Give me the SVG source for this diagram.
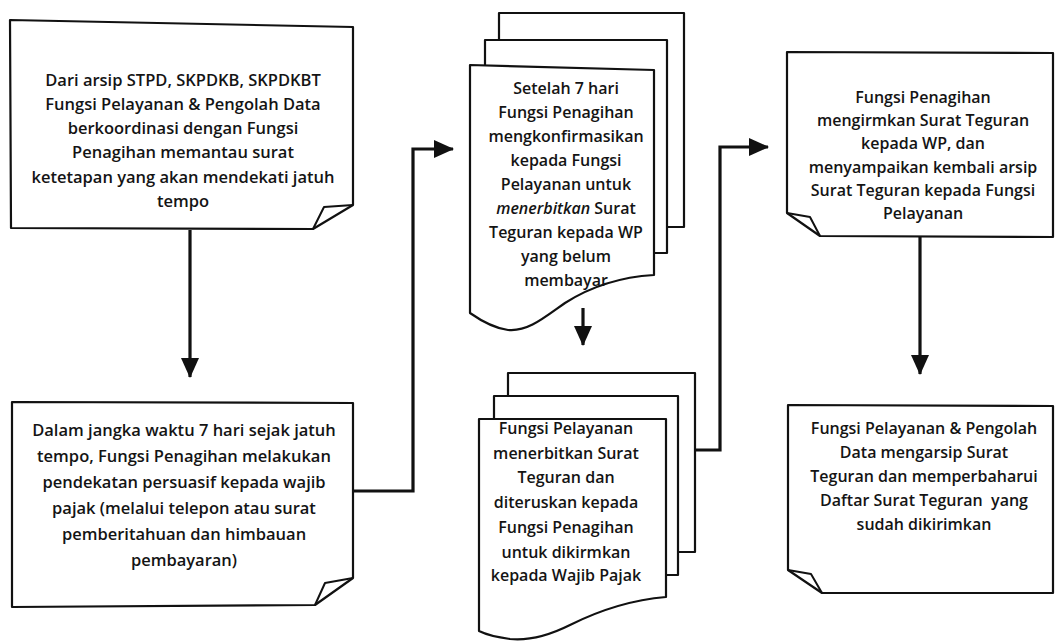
<svg xmlns="http://www.w3.org/2000/svg" width="1055" height="641" viewBox="0 0 1055 641">
<style>
.shape{fill:#fff;stroke:#111;stroke-width:2.2;stroke-linejoin:round}
.fold{fill:none;stroke:#111;stroke-width:2;stroke-linejoin:round}
.conn{fill:none;stroke:#111;stroke-width:3.2}
text{font-family:"Open Sans","Liberation Sans",sans-serif;font-weight:600;font-size:16px;fill:#141414;text-anchor:middle}
.big text{font-size:16.5px}
.it{font-style:italic}
</style>
<defs>
<marker id="arr" markerUnits="userSpaceOnUse" markerWidth="20" markerHeight="18" viewBox="0 0 20 18" refX="19" refY="9" orient="auto">
<path d="M0,0 L20,9 L0,18 Z" fill="#111"/>
</marker>
</defs>
<rect width="1055" height="641" fill="#fff"/>

<g id="connectors">
<path class="conn" d="M190,230 V377" marker-end="url(#arr)"/>
<path class="conn" d="M353,491 H413 V149 H453" marker-end="url(#arr)"/>
<path class="conn" d="M583,308 V345" marker-end="url(#arr)"/>
<path class="conn" d="M695,450 H720 V147 H768" marker-end="url(#arr)"/>
<path class="conn" d="M920,237 V374" marker-end="url(#arr)"/>
</g>

<g id="box1" class="big">
<path class="shape" d="M10,20 L353,27 L353,205 L313,229 L11,228 Z"/>
<path class="fold" d="M313,229 L324,207 L353,205"/>
<text x="183" y="86">Dari arsip STPD, SKPDKB, SKPDKBT</text>
<text x="183" y="110">Fungsi Pelayanan &amp; Pengolah Data</text>
<text x="183" y="134">berkoordinasi dengan Fungsi</text>
<text x="183" y="158">Penagihan memantau surat</text>
<text x="183" y="183">ketetapan yang akan mendekati jatuh</text>
<text x="183" y="207">tempo</text>
</g>

<g id="box2" class="big">
<path class="shape" d="M12,402 L353,403 L353,578 L315,605 L12,607 Z"/>
<path class="fold" d="M315,605 L325,583 L353,578"/>
<text x="184" y="436">Dalam jangka waktu 7 hari sejak jatuh</text>
<text x="184" y="462">tempo, Fungsi Penagihan melakukan</text>
<text x="184" y="488">pendekatan persuasif kepada wajib</text>
<text x="184" y="514">pajak (melalui telepon atau surat</text>
<text x="184" y="540">pemberitahuan dan himbauan</text>
<text x="184" y="566">pembayaran)</text>
</g>

<g id="doc1">
<rect class="shape" x="499" y="13" width="185" height="214"/>
<rect class="shape" x="485" y="40" width="182" height="213"/>
<path class="shape" d="M470,65 L654,70 L654,275 C620,277 590,287 565,303 C545,317 528,332 508,330 C493,328 480,320 470,313 Z"/>
<text x="566" y="94">Setelah 7 hari</text>
<text x="566" y="118">Fungsi Penagihan</text>
<text x="566" y="142">mengkonfirmasikan</text>
<text x="566" y="166">kepada Fungsi</text>
<text x="566" y="190">Pelayanan untuk</text>
<text x="566" y="214"><tspan class="it">menerbitkan</tspan> Surat</text>
<text x="566" y="238">Teguran kepada WP</text>
<text x="566" y="262">yang belum</text>
<text x="566" y="286">membayar</text>
</g>

<g id="doc2">
<rect class="shape" x="508" y="373" width="187" height="179"/>
<rect class="shape" x="494" y="396" width="184" height="179"/>
<path class="shape" d="M479,419 L666,419 L666,597 C630,600 600,610 570,625 C550,635 530,641 510,639 C495,637 485,634 479,631 Z"/>
<text x="566" y="434">Fungsi Pelayanan</text>
<text x="566" y="459">menerbitkan Surat</text>
<text x="566" y="483">Teguran dan</text>
<text x="566" y="508">diteruskan kepada</text>
<text x="566" y="533">Fungsi Penagihan</text>
<text x="566" y="558">untuk dikirmkan</text>
<text x="566" y="581">kepada Wajib Pajak</text>
</g>

<g id="box3">
<path class="shape" d="M787,52 L1053,53 L1053,237 L820,236 L787,213 Z"/>
<path class="fold" d="M787,213 L810,217 L820,236"/>
<text x="923" y="103">Fungsi Penagihan</text>
<text x="923" y="126">mengirmkan Surat Teguran</text>
<text x="923" y="149">kepada WP, dan</text>
<text x="923" y="173">menyampaikan kembali arsip</text>
<text x="923" y="196">Surat Teguran kepada Fungsi</text>
<text x="923" y="219">Pelayanan</text>
</g>

<g id="box4">
<path class="shape" d="M788,405 L1053,406 L1053,593 L822,593 L788,570 Z"/>
<path class="fold" d="M788,570 L811,574 L822,593"/>
<text x="924" y="434">Fungsi Pelayanan &amp; Pengolah</text>
<text x="924" y="458">Data mengarsip Surat</text>
<text x="924" y="482">Teguran dan memperbaharui</text>
<text x="924" y="506" xml:space="preserve">Daftar Surat Teguran  yang</text>
<text x="924" y="530">sudah dikirimkan</text>
</g>
</svg>
